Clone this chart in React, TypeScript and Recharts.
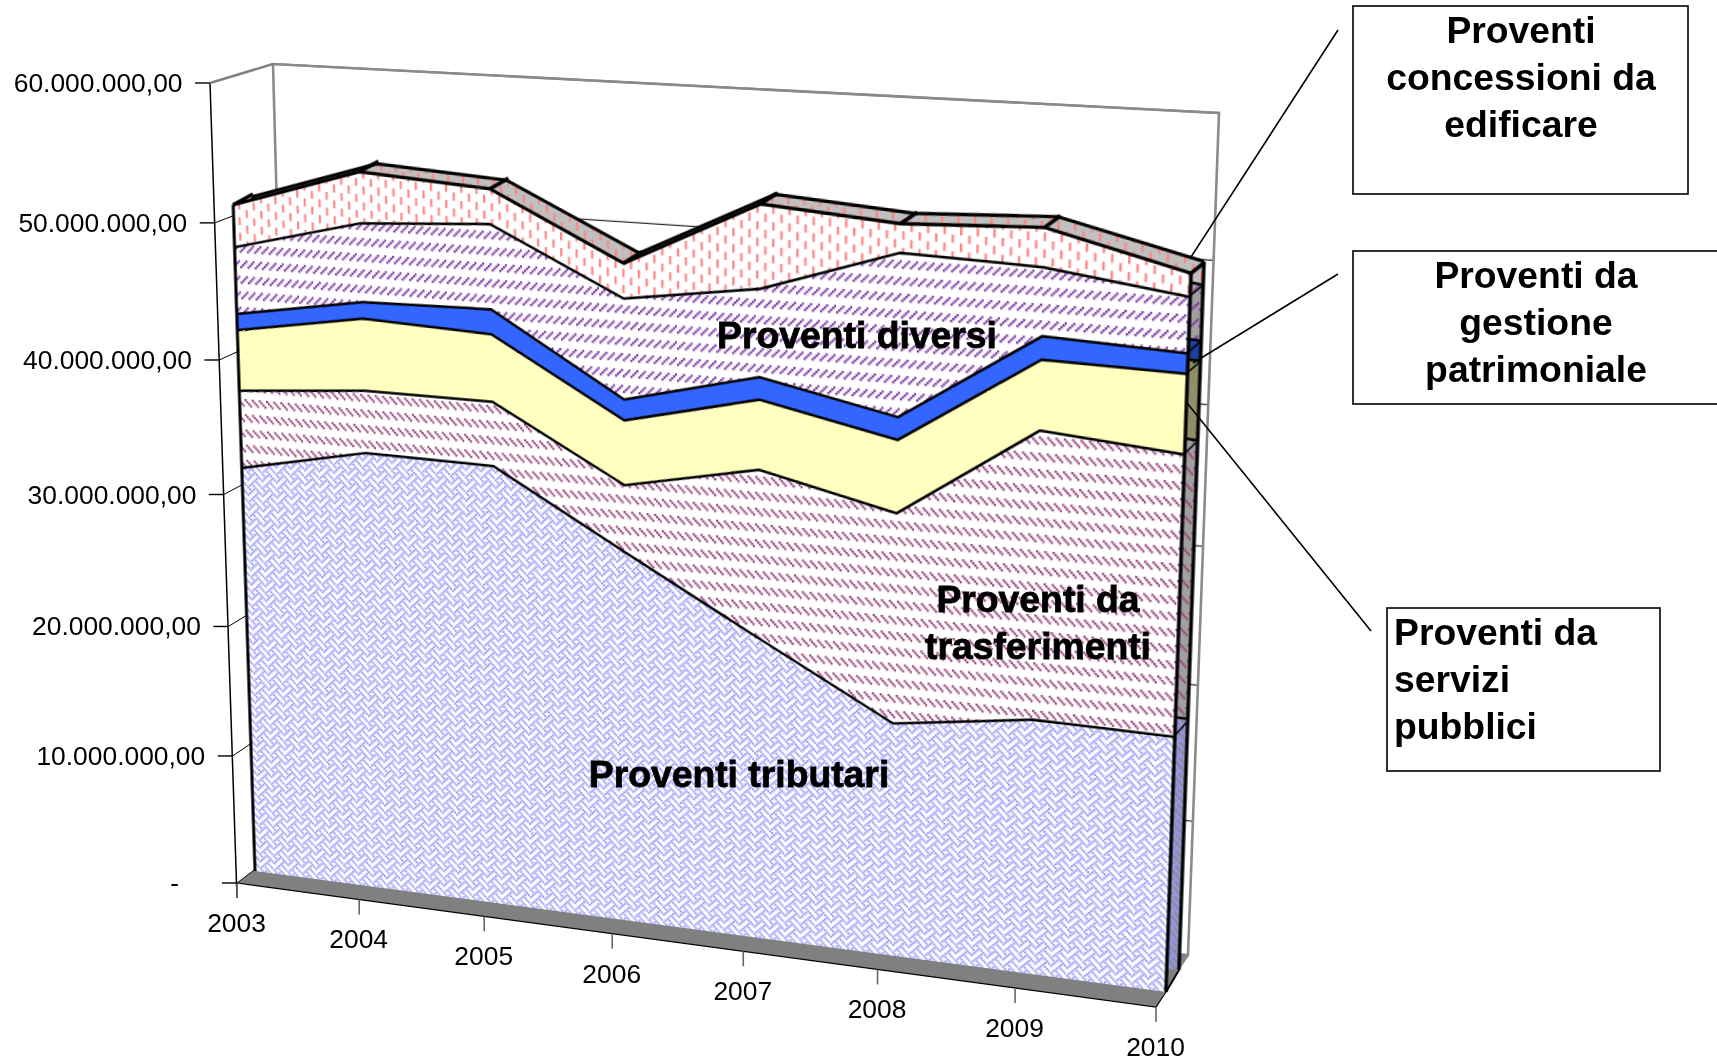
import { AreaChart, Area, XAxis, YAxis, CartesianGrid, ReferenceLine, LineChart, Line } from "recharts";

const years = ["2003", "2004", "2005", "2006", "2007", "2008", "2009", "2010"];
const tributari = [31.4, 33.4, 33.3, 27.9, 22.6, 17.4, 18.8, 18.7];
const trasferimenti = [5.8, 4.6, 4.7, 4.9, 12.2, 15.2, 20.5, 19.8];
const servizi = [4.5, 5.3, 4.9, 4.7, 5.0, 5.2, 4.9, 5.5];
const patrimoniale = [1.2, 1.2, 1.8, 1.5, 1.6, 1.6, 1.6, 1.4];
const diversi = [4.9, 5.7, 6.1, 7.2, 6.2, 11.4, 4.7, 3.8];
const concessioni = [3.0, 3.6, 2.4, 2.4, 5.8, 1.9, 2.6, 1.5];

const yTicks = [0, 10, 20, 30, 40, 50, 60];
const yTickLabels = ["-", "10.000.000,00", "20.000.000,00", "30.000.000,00", "40.000.000,00", "50.000.000,00", "60.000.000,00"];

const data = years.map((year, i) => ({
  year,
  tributari: tributari[i],
  trasferimenti: trasferimenti[i],
  servizi: servizi[i],
  patrimoniale: patrimoniale[i],
  diversi: diversi[i],
  concessioni: concessioni[i],
}));
const totals = data.map((d) => d.tributari + d.trasferimenti + d.servizi + d.patrimoniale + d.diversi + d.concessioni);

const SW = 1717;
const SH = 1061;
const PW = 940;
const PH = 820;
const PM = 10;
const FONT = '"Liberation Sans", Arial, sans-serif';

// 8x8 office hatch bitmaps
const HATCH_WEAVE = [0x88, 0x54, 0x22, 0x45, 0x88, 0x14, 0x22, 0x51];
const HATCH_DOWN = [0x00, 0x00, 0x88, 0x44, 0x22, 0x11, 0x00, 0x00];
const HATCH_UP = [0x00, 0x00, 0x11, 0x22, 0x44, 0x88, 0x00, 0x00];
const HATCH_VERT = [0x08, 0x08, 0x08, 0x08, 0x80, 0x80, 0x80, 0x80];
const HATCH_PX = 1.9;

type Pt = [number, number];
// corners: bottom-left, bottom-right, top-right, top-left
const FRONT_QUAD: Pt[] = [[255, 871], [1166, 992], [1196, 133], [229, 77]];
const BACK_QUAD: Pt[] = [[275, 851], [1179, 970], [1209, 123], [248, 71]];
const WALL_QUAD: Pt[] = [[294, 840], [1188, 955], [1219, 113], [273, 64]];
const AXIS_QUAD: Pt[] = [[237, 883], [1156, 1007], [1186, 141], [210, 83]];

// unit square -> quad homography
function squareToQuad(q: Pt[]) {
  const [p0, p1, p2, p3] = q;
  const dx1 = p1[0] - p2[0];
  const dx2 = p3[0] - p2[0];
  const sx = p0[0] - p1[0] + p2[0] - p3[0];
  const dy1 = p1[1] - p2[1];
  const dy2 = p3[1] - p2[1];
  const sy = p0[1] - p1[1] + p2[1] - p3[1];
  const den = dx1 * dy2 - dx2 * dy1;
  const g = (sx * dy2 - dx2 * sy) / den;
  const h = (dx1 * sy - sx * dy1) / den;
  return [
    [p1[0] - p0[0] + g * p1[0], p3[0] - p0[0] + h * p3[0], p0[0]],
    [p1[1] - p0[1] + g * p1[1], p3[1] - p0[1] + h * p3[1], p0[1]],
    [g, h, 1],
  ];
}

function project(q: Pt[], s: number, t: number): Pt {
  const m = squareToQuad(q);
  const w = m[2][0] * s + m[2][1] * t + 1;
  return [(m[0][0] * s + m[0][1] * t + m[0][2]) / w, (m[1][0] * s + m[1][1] * t + m[1][2]) / w];
}

function quadTransform(q: Pt[]) {
  const m = squareToQuad(q);
  const pw = PW - 2 * PM;
  const ph = PH - 2 * PM;
  // plane px -> (s, t) -> page px
  const r = [
    [1 / pw, 0, -PM / pw],
    [0, -1 / ph, 1 + PM / ph],
    [0, 0, 1],
  ];
  const c = m.map((row) => [0, 1, 2].map((j) => row[0] * r[0][j] + row[1] * r[1][j] + row[2] * r[2][j]));
  return `matrix3d(${c[0][0]},${c[1][0]},0,${c[2][0]},${c[0][1]},${c[1][1]},0,${c[2][1]},0,0,1,0,${c[0][2]},${c[1][2]},0,${c[2][2]})`;
}

function hatchPattern(id: string, rows: number[], color: string, bg: string) {
  const size = 8 * HATCH_PX;
  return (
    <pattern id={id} width={size} height={size} patternUnits="userSpaceOnUse">
      <rect width={size} height={size} fill={bg} />
      {rows.flatMap((bits, y) =>
        [0, 1, 2, 3, 4, 5, 6, 7]
          .filter((x) => (bits >> (7 - x)) & 1)
          .map((x) => <rect key={`${x}-${y}`} x={x * HATCH_PX} y={y * HATCH_PX} width={HATCH_PX + 0.3} height={HATCH_PX + 0.3} fill={color} />)
      )}
    </pattern>
  );
}

function patternDefs(prefix: string, bg: string, blueBg: string, pinkBg: string) {
  return (
    <defs>
      {hatchPattern(prefix + "blue", HATCH_WEAVE, "#9c9cfa", blueBg)}
      {hatchPattern(prefix + "maroon", HATCH_DOWN, "#993f78", bg)}
      {hatchPattern(prefix + "purple", HATCH_UP, "#7a35a5", bg)}
      {hatchPattern(prefix + "pink", HATCH_VERT, "#ff8484", pinkBg)}
    </defs>
  );
}

function Plane({ quad, children }: { quad: Pt[]; children: any }) {
  return (
    <div style={{ position: "absolute", left: 0, top: 0, width: PW, height: PH, transformOrigin: "0 0", transform: quadTransform(quad) }}>
      <AreaChart width={PW} height={PH} data={data} margin={{ top: PM, right: PM, bottom: PM, left: PM }}>
        <XAxis dataKey="year" scale="point" hide />
        <YAxis domain={[0, 60]} ticks={yTicks} hide />
        {children}
      </AreaChart>
    </div>
  );
}

// short edge from the front face back to the rear face
const connector = (all: boolean) => (p: any) => {
  if (!all && p.index !== years.length - 1) return <g key={p.index} />;
  const s = p.index / (years.length - 1);
  const t = 1 - (p.cy - PM) / (PH - 2 * PM);
  return <line key={p.index} x1={p.cx} y1={p.cy} x2={p.cx + 21 - 8 * s} y2={p.cy - (21 - 11 * t)} stroke="#000" strokeWidth={all ? 3.5 : 1.5} />;
};

function Series({ prefix, solidBlue, solidYellow }: { prefix: string; solidBlue: string; solidYellow: string }) {
  const front = prefix === "f-";
  // upper fill covers half of each boundary, so the stroke is drawn wider
  const sw = 5;
  return (
    <>
      <Area dataKey="tributari" stackId="a" type="linear" isAnimationActive={false} fill={`url(#${prefix}blue)`} fillOpacity={1} stroke="#000" strokeWidth={sw} dot={front ? connector(false) : false} />
      <Area dataKey="trasferimenti" stackId="a" type="linear" isAnimationActive={false} fill={`url(#${prefix}maroon)`} fillOpacity={1} stroke="#000" strokeWidth={sw} dot={front ? connector(false) : false} />
      <Area dataKey="servizi" stackId="a" type="linear" isAnimationActive={false} fill={solidYellow} fillOpacity={1} stroke="#000" strokeWidth={sw} dot={front ? connector(false) : false} />
      <Area dataKey="patrimoniale" stackId="a" type="linear" isAnimationActive={false} fill={solidBlue} fillOpacity={1} stroke="#000" strokeWidth={sw} dot={front ? connector(false) : false} />
      <Area dataKey="diversi" stackId="a" type="linear" isAnimationActive={false} fill={`url(#${prefix}purple)`} fillOpacity={1} stroke="#000" strokeWidth={sw} dot={front ? connector(false) : false} />
      <Area dataKey="concessioni" stackId="a" type="linear" isAnimationActive={false} fill={`url(#${prefix}pink)`} fillOpacity={1} stroke="#000" strokeWidth={3.2} dot={front ? connector(true) : false} />
      <ReferenceLine segment={[{ x: "2003", y: 0 }, { x: "2003", y: totals[0] }]} stroke="#000" strokeWidth={3.2} />
      <ReferenceLine segment={[{ x: "2010", y: 0 }, { x: "2010", y: totals[7] }]} stroke="#000" strokeWidth={3.2} />
    </>
  );
}

// axis layer has a 1px axis size, ticks are remapped onto the tilted axis plane
const renderXTick = (p: any) => {
  const [x, y] = project(AXIS_QUAD, (p.x - 1) / (SW - 1), 0);
  return (
    <g>
      <line x1={x} y1={y} x2={x} y2={y + 15} stroke="#666" strokeWidth={1.6} />
      <text x={x - 0.5} y={y + 40} textAnchor="middle" dominantBaseline="central" fontSize={26.4} fontFamily={FONT} fill="#000">{p.payload.value}</text>
    </g>
  );
};

const renderYTick = (p: any) => {
  const t = 1 - p.y / (SH - 1);
  const [x, y] = project(AXIS_QUAD, 0, t);
  const [wx, wy] = project(WALL_QUAD, 0, t);
  const idx = yTicks.indexOf(p.payload.value);
  const isTop = idx === yTicks.length - 1;
  return (
    <g>
      <line x1={x} y1={y} x2={wx} y2={wy} stroke={isTop ? "#808080" : "#000"} strokeWidth={isTop ? 2.5 : 1} />
      <line x1={x - 15} y1={y} x2={x} y2={y} stroke="#000" strokeWidth={1.4} />
      <text x={idx === 0 ? x - 58 : x - 27.5} y={y} textAnchor="end" dominantBaseline="central" fontSize={26.4} fontFamily={FONT} fill="#000">{yTickLabels[idx]}</text>
    </g>
  );
};

function AxesLayer() {
  return (
    <div style={{ position: "absolute", left: 0, top: 0 }}>
      <LineChart width={SW} height={SH} data={data} margin={{ top: 0, right: 0, bottom: 0, left: 0 }}>
        <polygon points="237,883 1156,1007 1188,955 294,840" fill="#808080" />
        <polyline points="237,883 1156,1007 1166,992" fill="none" stroke="#000" strokeWidth={1.2} />
        <polyline points="294,840 273,64 1219,113 1188,955 1176,972" fill="none" stroke="#8a8a8a" strokeWidth={2.6} />
        <line x1={210} y1={83} x2={237} y2={898} stroke="#000" strokeWidth={1.5} />
        <XAxis dataKey="year" scale="point" height={1} axisLine={false} tickLine={false} interval={0} tick={renderXTick} />
        <YAxis domain={[0, 60]} ticks={yTicks} width={1} interval={0} axisLine={false} tickLine={false} tick={renderYTick} />
        <Line dataKey="tributari" stroke="none" dot={false} isAnimationActive={false} />
      </LineChart>
    </div>
  );
}

const seriesLabels = [
  { lines: ["Proventi tributari"], x: 739, y: 774 },
  { lines: ["Proventi diversi"], x: 857, y: 335 },
  { lines: ["Proventi da", "trasferimenti"], x: 1038, y: 599 },
];

const callouts = [
  { box: [1353, 6, 335, 188], lines: ["Proventi", "concessioni da", "edificare"], x: 1521, y: 30, anchor: "middle", leader: [1338, 30, 1191, 257] },
  { box: [1353, 251, 380, 153], lines: ["Proventi da", "gestione", "patrimoniale"], x: 1536, y: 275, anchor: "middle", leader: [1338, 274, 1193, 363] },
  { box: [1387, 608, 273, 163], lines: ["Proventi da", "servizi", "pubblici"], x: 1394, y: 632, anchor: "start", leader: [1371, 631, 1187, 403] },
];

function Overlay() {
  const textProps = { fontFamily: FONT, fontSize: 37.3, fontWeight: 700, fill: "#000", dominantBaseline: "central" as const };
  return (
    <svg width={SW} height={SH} style={{ position: "absolute", left: 0, top: 0 }}>
      <line x1={1166} y1={992} x2={1179} y2={970} stroke="#000" strokeWidth={2} />
      {seriesLabels.map((l) =>
        l.lines.map((line, i) => (
          <text key={line} x={l.x} y={l.y + i * 47} textAnchor="middle" stroke="#000" strokeWidth={0.8} {...textProps}>{line}</text>
        ))
      )}
      {callouts.map((c) => (
        <g key={c.lines[2]}>
          <line x1={c.leader[0]} y1={c.leader[1]} x2={c.leader[2]} y2={c.leader[3]} stroke="#000" strokeWidth={1.6} />
          <rect x={c.box[0]} y={c.box[1]} width={c.box[2]} height={c.box[3]} fill="#fff" stroke="#000" strokeWidth={1.6} />
          {c.lines.map((line, i) => (
            <text key={line} x={c.x} y={c.y + i * 47} textAnchor={c.anchor as any} {...textProps}>{line}</text>
          ))}
        </g>
      ))}
    </svg>
  );
}

export default function App() {
  return (
    <div style={{ position: "absolute", left: 0, top: 0, width: SW, height: SH, overflow: "hidden", background: "#fff" }}>
      <Plane quad={WALL_QUAD}>
        <CartesianGrid vertical={false} stroke="#000" strokeWidth={1} />
        <Area dataKey="tributari" stroke="none" fill="none" isAnimationActive={false} />
      </Plane>
      <AxesLayer />
      <Plane quad={BACK_QUAD}>
        {patternDefs("b-", "#a0a0a0", "#8c8ca8", "#c0c0c0")}
        <Series prefix="b-" solidBlue="#1f3f9c" solidYellow="#8f8f68" />
      </Plane>
      <Plane quad={FRONT_QUAD}>
        {patternDefs("f-", "#ffffff", "#ffffff", "#ffffff")}
        <Series prefix="f-" solidBlue="#3366ff" solidYellow="#ffffc0" />
      </Plane>
      <Overlay />
    </div>
  );
}
